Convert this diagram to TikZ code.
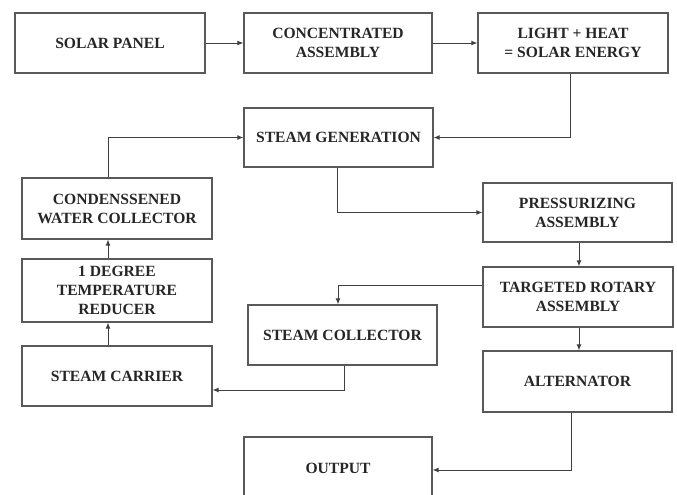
\documentclass[tikz,border=0pt]{standalone}
\usepackage{fontspec}
\setmainfont{Liberation Serif}
\usetikzlibrary{arrows.meta,positioning}
\begin{document}
\begin{tikzpicture}[x=1pt,y=-1pt,
  blk/.style={draw=black!65,line width=1.3pt,fill=white,align=center,inner sep=2pt,
    font=\fontsize{15.6}{19}\selectfont\bfseries,text=black!85},
  conn/.style={draw=black!75,line width=0.9pt,-{Latex[length=6pt,width=5pt]}}]
\clip (0,0) rectangle (677,495);
\fill[white] (0,0) rectangle (677,495);
\node[blk,minimum width=190,minimum height=60] (solar) at (110,43) {SOLAR PANEL};
\node[blk,minimum width=188,minimum height=60] (conc) at (338,43) {CONCENTRATED\\ASSEMBLY};
\node[blk,minimum width=190,minimum height=60] (light) at (573,43) {LIGHT + HEAT\\= SOLAR ENERGY};
\node[blk,minimum width=189,minimum height=59] (sgen) at (338.5,137.5) {STEAM GENERATION};
\node[blk,minimum width=190,minimum height=61] (cond) at (117,208.5) {CONDENSSENED\\WATER COLLECTOR};
\node[blk,minimum width=190,minimum height=63] (red) at (117,290.5) {1 DEGREE\\TEMPERATURE\\REDUCER};
\node[blk,minimum width=190,minimum height=60] (carr) at (117,376) {STEAM CARRIER};
\node[blk,minimum width=189,minimum height=60] (coll) at (342.5,335) {STEAM COLLECTOR};
\node[blk,minimum width=189,minimum height=59] (press) at (577.5,212.5) {PRESSURIZING\\ASSEMBLY};
\node[blk,minimum width=190,minimum height=60] (rot) at (578,297) {TARGETED ROTARY\\ASSEMBLY};
\node[blk,minimum width=189,minimum height=61] (alt) at (577.5,381.5) {ALTERNATOR};
\node[blk,minimum width=188,minimum height=62] (out) at (338,468) {OUTPUT};
\draw[conn] (solar.east) -- (conc.west);
\draw[conn] (conc.east) -- (light.west);
\draw[conn] ([xshift=-3pt]light.south) |- (sgen.east);
\draw[conn] ([xshift=-9pt]cond.north) |- (sgen.west);
\draw[conn] ([xshift=-9pt]red.north) -- ([xshift=-9pt]cond.south);
\draw[conn] ([xshift=-9pt]carr.north) -- ([xshift=-9pt]red.south);
\draw[conn] ([xshift=-1.5pt]sgen.south) |- (press.west);
\draw[conn] ([xshift=1.5pt]press.south) -- ([xshift=1pt]rot.north);
\draw[conn] ([yshift=12pt]rot.west) -| ([xshift=-4.5pt]coll.north);
\draw[conn] ([xshift=1.5pt]coll.south) |- ([yshift=-14pt]carr.east);
\draw[conn] ([xshift=1pt]rot.south) -- ([xshift=1.5pt]alt.north);
\draw[conn] ([xshift=-6.5pt]alt.south) |- ([yshift=-2pt]out.east);
\end{tikzpicture}
\end{document}
